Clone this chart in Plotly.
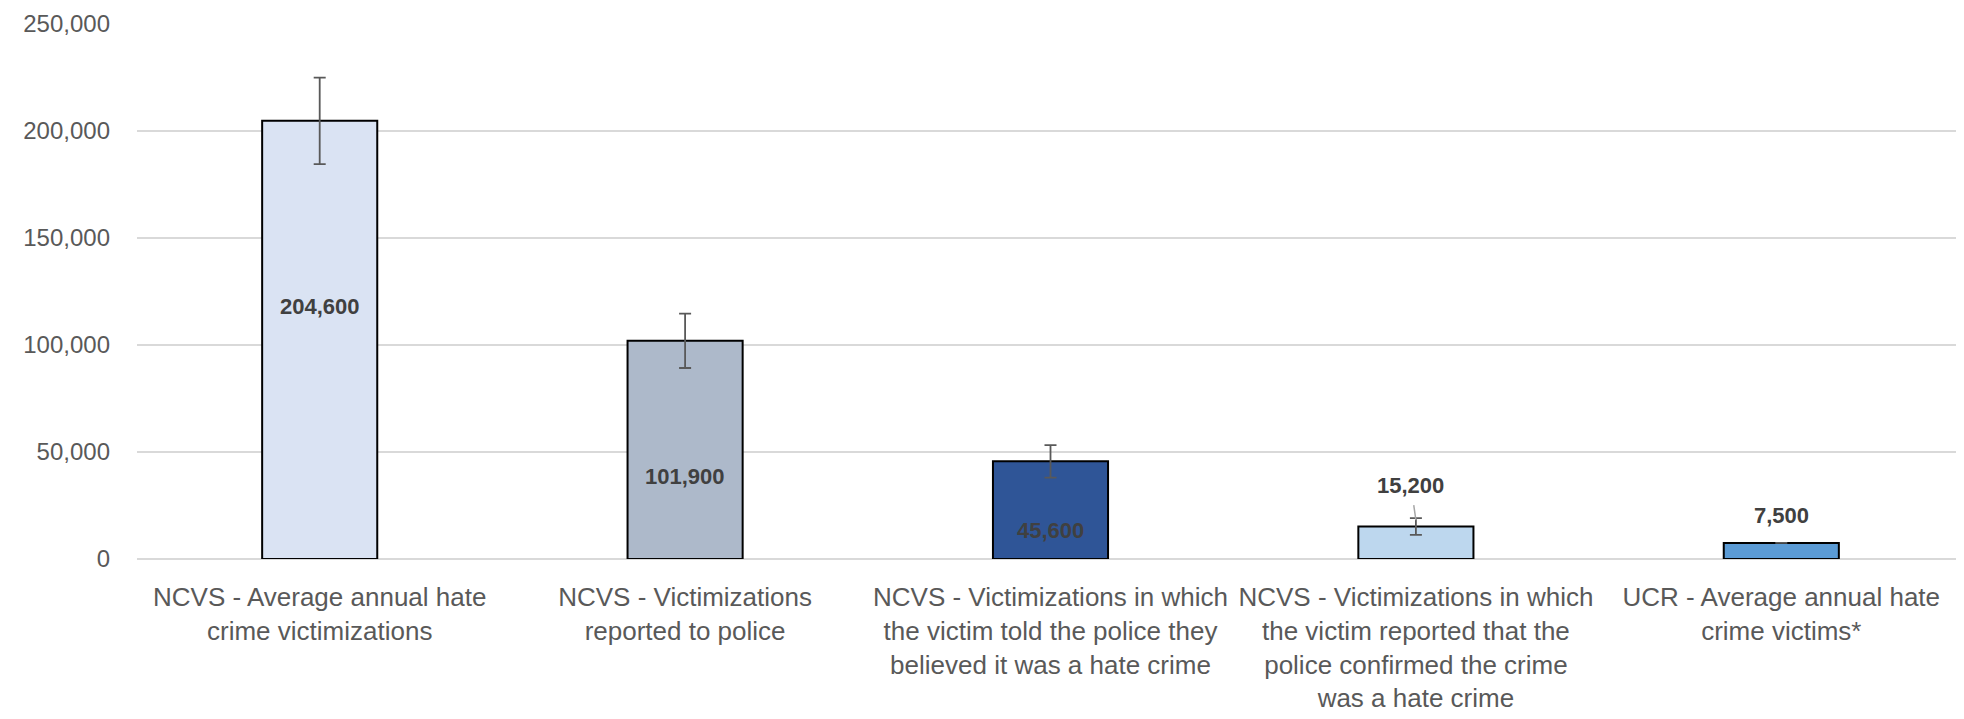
import plotly.graph_objects as go

categories = [
    "NCVS - Average annual hate<br>crime victimizations",
    "NCVS - Victimizations<br>reported to police",
    "NCVS - Victimizations in which<br>the victim told the police they<br>believed it was a hate crime",
    "NCVS - Victimizations in which<br>the victim reported that the<br>police confirmed the crime<br>was a hate crime",
    "UCR - Average annual hate<br>crime victims*",
]
values = [204600, 101900, 45600, 15200, 7500]
errors = [20200, 12700, 7600, 3900, 0]
value_labels = ["204,600", "101,900", "45,600", "15,200", "7,500"]
bar_colors = ["#DAE3F3", "#ADB9CA", "#2F5597", "#BDD7EE", "#5B9BD5"]

y_ticks = [0, 50000, 100000, 150000, 200000, 250000]
y_tick_labels = ["0", "50,000", "100,000", "150,000", "200,000", "250,000"]

FONT = "Liberation Sans, Arial, sans-serif"

fig = go.Figure()
fig.add_trace(go.Bar(
    x=list(range(len(categories))),
    y=values,
    width=0.315,
    marker=dict(color=bar_colors, line=dict(color="#000000", width=2)),
    error_y=dict(type="data", array=errors, visible=True,
                 color="#595959", thickness=1.8, width=6),
    hoverinfo="skip",
))

# label offsets (pixels) relative to the bar middle for inside labels
inside_shift = [33, -27, -20]
for i in range(3):
    fig.add_annotation(x=i, y=values[i] / 2, text=value_labels[i], showarrow=False,
                       yshift=inside_shift[i],
                       font=dict(family=FONT, size=22, color="#404040", weight="bold"))

# 15,200 with leader line
fig.add_annotation(x=3, y=values[3] + errors[3] * 0.75, text=value_labels[3], showarrow=True,
                   arrowhead=0, arrowwidth=1.5, arrowcolor="#A6A6A6", ax=-5, ay=-35,
                   standoff=0, startstandoff=6,
                   font=dict(family=FONT, size=22, color="#404040", weight="bold"))
fig.add_annotation(x=4, y=values[4], text=value_labels[4], showarrow=False,
                   yanchor="bottom", yshift=13,
                   font=dict(family=FONT, size=22, color="#404040", weight="bold"))

fig.update_layout(
    width=1956, height=711,
    margin=dict(l=129, r=0, t=15, b=160),
    plot_bgcolor="white", paper_bgcolor="white",
    showlegend=False,
    font=dict(family=FONT, color="#595959"),
    xaxis=dict(
        range=[-0.5, 4.5],
        tickmode="array", tickvals=list(range(len(categories))), ticktext=categories,
        showgrid=False, zeroline=False, showline=False, ticks="",
        tickfont=dict(family=FONT, size=26, color="#595959"),
        ticklabelstandoff=20,
    ),
    yaxis=dict(
        range=[0, 250300],
        tickmode="array", tickvals=y_ticks, ticktext=y_tick_labels,
        showgrid=True, gridcolor="#D9D9D9", gridwidth=1.5,
        zeroline=True, zerolinecolor="#D9D9D9", zerolinewidth=1.5,
        showline=False, ticks="",
        tickfont=dict(family=FONT, size=24, color="#595959"),
        ticklabelstandoff=26,
        ticklabeloverflow="allow",
        automargin=False,
    ),
)

fig.write_html("out.html")
